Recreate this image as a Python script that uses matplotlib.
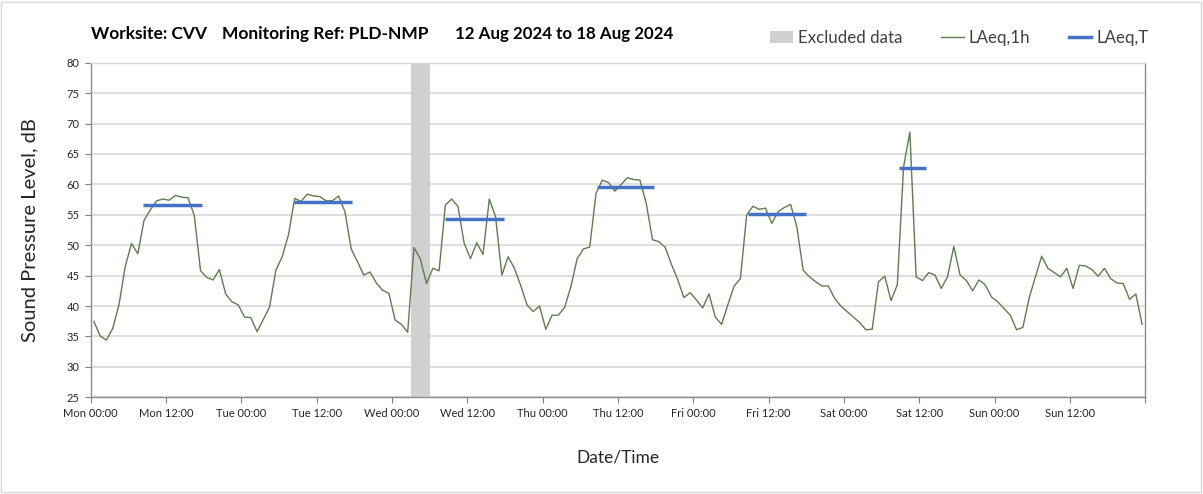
import matplotlib
matplotlib.use("Agg")
import matplotlib.pyplot as plt
from matplotlib.lines import Line2D
from matplotlib.patches import Patch, Rectangle

plt.rcParams["font.family"] = ["Lato", "DejaVu Sans"]

# hourly LAeq,1h values, Mon 00:00 to Sun 23:00 (one per hour)
laeq_1h = [
    37.5, 35.1, 34.4, 36.3, 40.2, 46.5, 50.3, 48.6, 54.1, 55.8, 57.3, 57.6,
    57.4, 58.2, 57.9, 57.8, 54.9, 45.8, 44.7, 44.3, 46.0, 42.0, 40.7, 40.2,
    38.2, 38.1, 35.8, 37.8, 39.9, 45.9, 48.1, 51.7, 57.7, 57.2, 58.4, 58.1,
    58.0, 57.3, 57.3, 58.1, 55.5, 49.4, 47.3, 45.1, 45.6, 43.8, 42.6, 42.1,
    37.7, 37.0, 35.7, 49.6, 47.8, 43.7, 46.2, 45.8, 56.6, 57.6, 56.4, 50.3,
    47.8, 50.4, 48.5, 57.6, 54.7, 45.1, 48.1, 46.2, 43.4, 40.2, 39.1, 40.0,
    36.2, 38.5, 38.5, 39.8, 43.2, 47.8, 49.4, 49.7, 58.5, 60.7, 60.3, 58.9,
    60.0, 61.1, 60.8, 60.7, 56.9, 50.9, 50.6, 49.7, 46.9, 44.4, 41.4, 42.2,
    41.0, 39.7, 42.0, 38.2, 37.0, 40.2, 43.3, 44.5, 55.0, 56.4, 55.9, 56.1,
    53.6, 55.5, 56.2, 56.7, 53.0, 45.9, 44.8, 44.0, 43.3, 43.3, 41.3, 40.0,
    39.1, 38.2, 37.3, 36.1, 36.2, 44.0, 44.9, 40.9, 43.5, 62.9, 68.6, 44.8,
    44.2, 45.5, 45.1, 42.9, 44.8, 49.8, 45.1, 44.2, 42.5, 44.3, 43.5, 41.5,
    40.7, 39.6, 38.5, 36.1, 36.5, 41.3, 44.8, 48.2, 46.2, 45.5, 44.8, 46.2,
    42.9, 46.7, 46.6, 46.0, 44.9, 46.2, 44.5, 43.8, 43.7, 41.1, 42.0, 37.0,
]

# LAeq,T periods (hours from Mon 00:00) and levels
period_start = [8.3, 32.4, 56.5, 80.6, 104.7, 128.75]
period_end = [17.7, 41.7, 65.8, 89.8, 113.9, 133.1]
laeq_t = [56.6, 57.1, 54.3, 59.6, 55.1, 62.7]

# excluded data window (hours)
excluded = (51, 54)

days = ["Mon", "Tue", "Wed", "Thu", "Fri", "Sat", "Sun"]
tick_labels = [f"{d} {t}" for d in days for t in ("00:00", "12:00")]

LINE_GREEN = "#5f7d4c"
BLUE = "#4472c4"
GRID = "#d9d9d9"


def plot_chart():
    fig = plt.figure(figsize=(12.03, 4.94), dpi=100)
    fig.patches.append(Rectangle((0.001, 0.004), 0.997, 0.992, transform=fig.transFigure,
                                 fill=False, edgecolor="#d9d9d9", linewidth=1))
    ax = fig.add_axes([0.0754, 0.1957, 0.8766, 0.6773])

    hours = [i + 0.5 for i in range(len(laeq_1h))]
    ax.axvspan(*excluded, color="#d0d0d0", linewidth=0, zorder=1)
    ax.plot(hours, laeq_1h, color=LINE_GREEN, linewidth=1.0, zorder=3)
    ax.hlines(laeq_t, period_start, period_end, color=BLUE, linewidth=2.5, zorder=4)

    ax.set_xlim(0, 168)
    ax.set_ylim(25, 80)
    ax.set_yticks(range(25, 81, 5))
    ax.set_xticks(range(0, 169, 12))
    ax.set_xticklabels(tick_labels + [""])
    ax.set_xticks(range(0, 169, 24), minor=True)
    ax.tick_params(axis="x", which="minor", length=0)
    ax.grid(axis="y", which="major", color=GRID, linewidth=1.2, zorder=0)
    ax.grid(axis="x", which="minor", color=GRID, linewidth=1.0, zorder=0)
    ax.set_axisbelow(True)
    ax.tick_params(axis="both", which="major", labelsize=8, length=4, color="#808080",
                   labelcolor="#262626", pad=4)
    for side in ax.spines:
        ax.spines[side].set_color("#8c8c8c")
        ax.spines[side].set_linewidth(1.0)
    ax.spines["top"].set_color(GRID)

    ax.set_ylabel("Sound Pressure Level, dB", fontsize=14.5, color="#262626", labelpad=20)
    ax.set_xlabel("Date/Time", fontsize=12.5, color="#262626", labelpad=22)

    title_y = 1 - 34 / 494
    fig.text(91 / 1203, title_y, "Worksite: CVV", fontsize=12.5, fontweight="bold", va="center")
    fig.text(222 / 1203, title_y, "Monitoring Ref: PLD-NMP", fontsize=12.5, fontweight="bold", va="center")
    fig.text(455 / 1203, title_y, "12 Aug 2024 to 18 Aug 2024", fontsize=12.2, fontweight="bold", va="center")

    handles = [
        Patch(facecolor="#d0d0d0", edgecolor="none", label="Excluded data"),
        Line2D([], [], color=LINE_GREEN, linewidth=1.0, label="LAeq,1h"),
        Line2D([], [], color=BLUE, linewidth=2.5, label="LAeq,T"),
    ]
    fig.legend(handles=handles, loc="center left", bbox_to_anchor=(755 / 1203, 1 - 38 / 494),
               ncol=3, frameon=False, fontsize=12.2, handlelength=1.35, handleheight=0.75,
               handletextpad=0.3, columnspacing=2.25, labelcolor="#404040")

    fig.savefig("out.png", dpi=100)


if __name__ == "__main__":
    plot_chart()
